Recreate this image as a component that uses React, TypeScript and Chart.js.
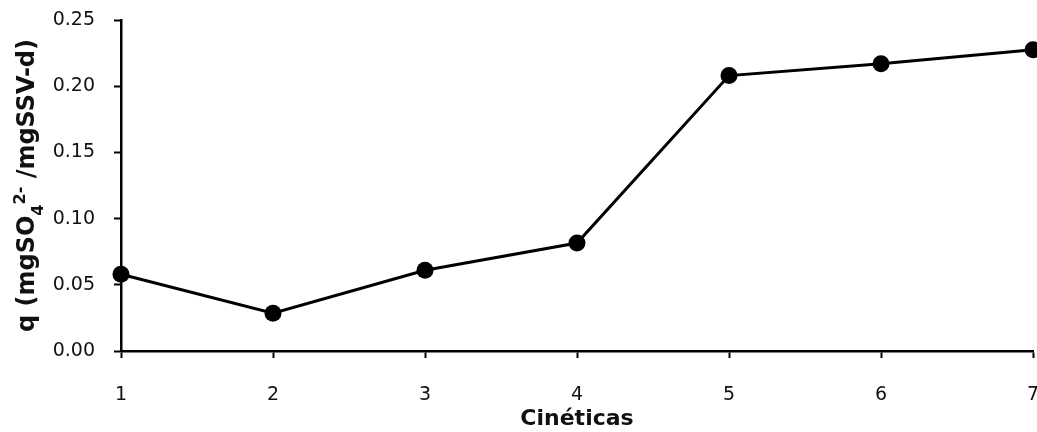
import React, { useEffect, useRef } from "react";
import { Chart, registerables } from "chart.js";

Chart.register(...registerables);

const categories: string[] = ["1", "2", "3", "4", "5", "6", "7"];
const qValues: number[] = [0.058, 0.0285, 0.061, 0.0815, 0.208, 0.217, 0.2275];
const xTitle = "Cinéticas";
// y title pieces: [text, kind] where kind: n = normal, sub = subscript, sup = superscript
const yTitleParts: [string, string][] = [
  ["q (mgSO", "n"],
  ["4", "sub"],
  ["2-", "sup"],
  [" /mgSSV-d)", "n"],
];

const textPlugin = {
  id: "richText",
  afterDraw(chart: any) {
    const { ctx, chartArea } = chart;
    ctx.save();
    // x tick labels, positioned by the x scale
    const xs = chart.scales.x;
    ctx.font = "19px 'DejaVu Sans'";
    ctx.fillStyle = "#111";
    ctx.textAlign = "center";
    ctx.textBaseline = "alphabetic";
    categories.forEach((c, i) => {
      ctx.fillText(c, xs.getPixelForTick(i), chartArea.bottom + 49);
    });
    ctx.restore();

    ctx.save();
    const mainFont = "bold 24px 'DejaVu Sans'";
    const smallFont = "bold 16px 'DejaVu Sans'";
    const widths = yTitleParts.map(([t, k]) => {
      ctx.font = k === "n" ? mainFont : smallFont;
      return ctx.measureText(t).width;
    });
    const total = widths.reduce((a, b) => a + b, 0);
    const cy = (chartArea.top + chartArea.bottom) / 2;
    ctx.translate(34, cy);
    ctx.rotate(-Math.PI / 2);
    ctx.fillStyle = "#111";
    ctx.textBaseline = "alphabetic";
    ctx.textAlign = "left";
    let x = -total / 2;
    yTitleParts.forEach(([t, k], i) => {
      ctx.font = k === "n" ? mainFont : smallFont;
      const dy = k === "sub" ? 9 : k === "sup" ? -9 : 0;
      ctx.fillText(t, x, dy);
      x += widths[i];
    });
    ctx.restore();
  },
};

export default function App() {
  const ref = useRef<HTMLCanvasElement | null>(null);

  useEffect(() => {
    document.body.style.margin = "0";
    if (!ref.current) return;
    const chart = new Chart(ref.current, {
      type: "line",
      data: {
        labels: categories,
        datasets: [
          {
            data: qValues,
            borderColor: "#000",
            borderWidth: 3,
            backgroundColor: "#000",
            pointBackgroundColor: "#000",
            pointBorderColor: "#000",
            pointRadius: 8.5,
            pointBorderWidth: 0,
            tension: 0,
            clip: false as any,
          },
        ],
      },
      options: {
        responsive: false,
        animation: false,
        layout: { autoPadding: false, padding: { top: 20, right: 4, bottom: 0, left: 0 } },
        plugins: { legend: { display: false }, tooltip: { enabled: false } },
        scales: {
          x: {
            type: "category",
            offset: false,
            border: { display: true, color: "#000", width: 2.5 },
            grid: {
              display: true,
              drawOnChartArea: false,
              drawTicks: true,
              tickLength: 7,
              tickColor: "#000",
              tickWidth: 2,
            },
            ticks: { display: false, autoSkip: false, maxRotation: 0 },
            title: {
              display: true,
              text: xTitle,
              color: "#111",
              font: { family: "DejaVu Sans", size: 22, weight: "bold" },
              padding: { top: 0, bottom: 0 },
            },
            afterFit: (s: any) => {
              s.height = 81;
              s.paddingRight = 0;
              s.paddingLeft = 0;
            },
          },
          y: {
            min: 0,
            max: 0.25,
            border: { display: true, color: "#000", width: 2.5 },
            grid: {
              display: true,
              drawOnChartArea: false,
              drawTicks: true,
              tickLength: 7,
              tickColor: "#000",
              tickWidth: 2,
            },
            ticks: {
              stepSize: 0.05,
              color: "#111",
              font: { family: "DejaVu Sans", size: 19 },
              padding: 19,
              callback: (v: any) => Number(v).toFixed(2),
            },
            title: { display: false },
            afterFit: (s: any) => {
              s.width = 121;
              s.paddingTop = 0;
              s.paddingBottom = 0;
            },
          },
        },
      },
      plugins: [textPlugin],
    });
    return () => chart.destroy();
  }, []);

  return (
    <div style={{ width: 1037, height: 432 }}>
      <canvas ref={ref} width={1037} height={432} style={{ display: "block" }} />
    </div>
  );
}
